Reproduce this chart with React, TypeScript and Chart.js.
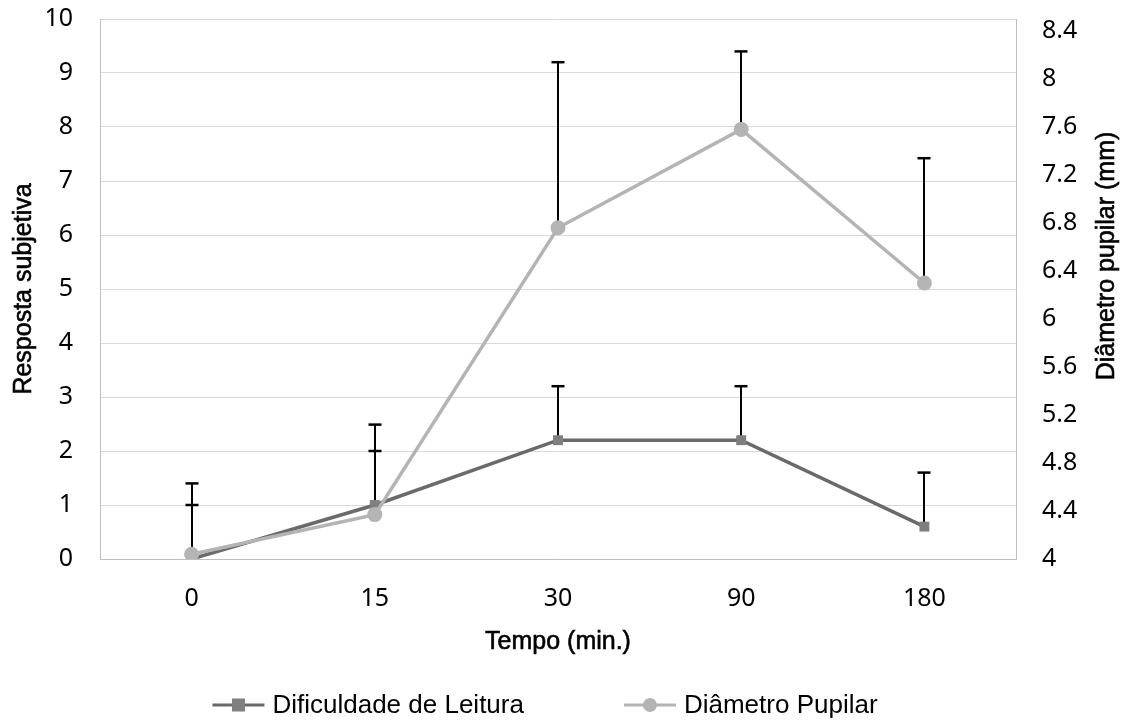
import React, { useEffect, useRef } from 'react';
import { Chart, registerables } from 'chart.js';

Chart.register(...registerables);

const categories = ['0', '15', '30', '90', '180'];
const dificuldade = [0, 1, 2.2, 2.2, 0.6];
const dificuldadeErr = [1, 1, 1, 1, 1];
const pupilar = [4.04, 4.37, 6.76, 7.58, 6.3];
const pupilarErr = [0.59, 0.75, 1.38, 0.65, 1.04];
const rightTicks = [4, 4.4, 4.8, 5.2, 5.6, 6, 6.4, 6.8, 7.2, 7.6, 8, 8.4];

const seriesNames = ['Dificuldade de Leitura', 'Diâmetro Pupilar'];
const xTitle = 'Tempo (min.)';
const yTitle = 'Resposta subjetiva';
const y1Title = 'Diâmetro pupilar (mm)';

const DARK_LINE = '#6a6a6a';
const DARK_MARK = '#7f7f7f';
const LIGHT = '#b4b4b4';
const TICK_FONT = { family: "'Noto Sans', sans-serif", size: 25 };
const TITLE_FONT = "25px 'Liberation Sans', Arial, sans-serif";
const LEGEND_FONT = "26px 'Liberation Sans', Arial, sans-serif";

const errorBarsPlugin = {
  id: 'errorBars',
  beforeDatasetsDraw(chart: any) {
    const ctx = chart.ctx;
    const sets = [
      { ds: 0, err: dificuldadeErr, axis: 'y' },
      { ds: 1, err: pupilarErr, axis: 'y1' },
    ];
    ctx.save();
    ctx.strokeStyle = '#000000';
    sets.forEach(({ ds, err, axis }) => {
      const meta = chart.getDatasetMeta(ds);
      const scale = chart.scales[axis];
      const values = chart.data.datasets[ds].data as number[];
      meta.data.forEach((pt: any, i: number) => {
        const x = Math.round(pt.x);
        const y0 = scale.getPixelForValue(values[i]);
        const y1 = scale.getPixelForValue(values[i] + err[i]);
        ctx.lineWidth = 2;
        ctx.beginPath();
        ctx.moveTo(x, y0);
        ctx.lineTo(x, y1);
        ctx.stroke();
        ctx.lineWidth = 2.5;
        ctx.beginPath();
        ctx.moveTo(x - 6.5, y1);
        ctx.lineTo(x + 6.5, y1);
        ctx.stroke();
      });
    });
    ctx.restore();
  },
};

function heavyText(ctx: CanvasRenderingContext2D, text: string, x: number, y: number) {
  ctx.fillText(text, x, y);
  ctx.strokeText(text, x, y);
}

const extrasPlugin = {
  id: 'extras',
  afterDraw(chart: any) {
    const ctx = chart.ctx;
    const area = chart.chartArea;
    ctx.save();
    ctx.font = TITLE_FONT;
    ctx.fillStyle = '#000000';
    ctx.strokeStyle = '#000000';
    ctx.lineWidth = 0.6;
    ctx.textAlign = 'center';
    ctx.textBaseline = 'middle';
    // x axis title
    heavyText(ctx, xTitle, (area.left + area.right) / 2, 642);
    // left axis title
    ctx.save();
    ctx.translate(24, (area.top + area.bottom) / 2);
    ctx.rotate(-Math.PI / 2);
    heavyText(ctx, yTitle, 0, 0);
    ctx.restore();
    // right axis title, reading bottom-to-top
    ctx.save();
    ctx.translate(chart.scales.y1.right - 22, 256);
    ctx.rotate(-Math.PI / 2);
    heavyText(ctx, y1Title, 0, 0);
    ctx.restore();
    ctx.restore();

    // legend with line + marker
    ctx.save();
    ctx.font = LEGEND_FONT;
    ctx.textBaseline = 'middle';
    ctx.textAlign = 'left';
    const lineLen = 52;
    const gapText = 8;
    const gapItem = 100;
    const items = chart.data.datasets.map((d: any) => ({
      label: d.label,
      line: d.borderColor,
      mark: d.pointBackgroundColor,
      style: d.pointStyle,
      w: lineLen + gapText + ctx.measureText(d.label).width,
    }));
    const total = items.reduce((s: number, it: any) => s + it.w, 0) + gapItem * (items.length - 1);
    let x = 545 - total / 2;
    const y = 705;
    items.forEach((it: any) => {
      ctx.strokeStyle = it.line;
      ctx.lineWidth = 3;
      ctx.beginPath();
      ctx.moveTo(x, y);
      ctx.lineTo(x + lineLen, y);
      ctx.stroke();
      ctx.fillStyle = it.mark;
      const cx = x + lineLen / 2;
      if (it.style === 'rect') {
        ctx.fillRect(cx - 6.5, y - 6.5, 13, 13);
      } else {
        ctx.beginPath();
        ctx.arc(cx, y, 7, 0, Math.PI * 2);
        ctx.fill();
      }
      ctx.fillStyle = '#000000';
      ctx.fillText(it.label, x + lineLen + gapText, y + 1);
      x += it.w + gapItem;
    });
    ctx.restore();
  },
};

export default function App() {
  const ref = useRef<HTMLCanvasElement | null>(null);
  useEffect(() => {
    document.body.style.margin = '0';
    if (!ref.current) return;
    const chart = new Chart(ref.current, {
      type: 'line',
      data: {
        labels: categories,
        datasets: [
          {
            label: seriesNames[0],
            data: dificuldade,
            yAxisID: 'y',
            borderColor: DARK_LINE,
            backgroundColor: DARK_MARK,
            pointBackgroundColor: DARK_MARK,
            pointBorderColor: DARK_MARK,
            pointStyle: 'rect',
            pointRadius: 7,
            pointBorderWidth: 0,
            borderWidth: 3.5,
            order: 1,
          },
          {
            label: seriesNames[1],
            data: pupilar,
            yAxisID: 'y1',
            borderColor: LIGHT,
            backgroundColor: LIGHT,
            pointBackgroundColor: LIGHT,
            pointBorderColor: LIGHT,
            pointStyle: 'circle',
            pointRadius: 7.5,
            pointBorderWidth: 0,
            borderWidth: 3.5,
            order: 0,
          },
        ],
      },
      options: {
        responsive: false,
        animation: false,
        layout: { padding: { top: 19, bottom: 65, left: 0, right: 0 } },
        plugins: {
          legend: { display: false },
          tooltip: { enabled: false },
        },
        scales: {
          x: {
            type: 'category',
            offset: true,
            grid: { display: false, drawTicks: false },
            border: { display: true, color: '#bfbfbf', width: 1 },
            ticks: { font: TICK_FONT, color: '#000000', padding: 25, maxRotation: 0 },
            afterFit(scale: any) {
              scale.height = 96;
              scale.paddingLeft = 0;
              scale.paddingRight = 0;
            },
          },
          y: {
            position: 'left',
            min: 0,
            max: 10,
            ticks: { stepSize: 1, font: TICK_FONT, color: '#000000', padding: 27 },
            grid: { color: '#d9d9d9', lineWidth: 1, drawTicks: false },
            border: { display: true, color: '#bfbfbf', width: 1 },
            afterFit(scale: any) {
              scale.width = 100;
              scale.paddingTop = 0;
              scale.paddingBottom = 0;
            },
          },
          y1: {
            position: 'right',
            min: 4,
            max: 8.5,
            bounds: 'data',
            ticks: {
              font: TICK_FONT,
              color: '#000000',
              padding: 26,
              callback: (v: any) => String(Number(Number(v).toFixed(1))),
            },
            afterBuildTicks(scale: any) {
              scale.ticks = rightTicks.map((v) => ({ value: v }));
            },
            grid: { display: false, drawTicks: false },
            border: { display: true, color: '#bfbfbf', width: 1 },
            afterFit(scale: any) {
              scale.width = 113;
              scale.paddingTop = 0;
              scale.paddingBottom = 0;
            },
          },
        },
      },
      plugins: [errorBarsPlugin, extrasPlugin],
    });
    return () => chart.destroy();
  }, []);
  return <canvas ref={ref} width={1129} height={720} />;
}
